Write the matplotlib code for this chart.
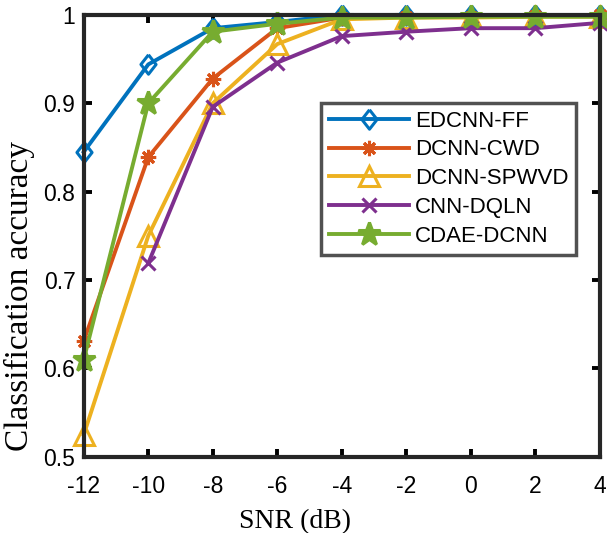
import numpy as np
import matplotlib
matplotlib.use("Agg")
import matplotlib.pyplot as plt

snr = [-12, -10, -8, -6, -4, -2, 0, 2, 4]
edcnn_ff = [0.845, 0.944, 0.985, 0.992, 1.0, 1.0, 1.0, 1.0, 1.0]
dcnn_cwd = [0.631, 0.839, 0.928, 0.985, 0.997, 0.998, 0.998, 0.999, 1.0]
dcnn_spwvd = [0.525, 0.750, 0.900, 0.967, 0.995, 0.997, 0.997, 0.998, 0.998]
cnn_dqln = [np.nan, 0.719, 0.896, 0.946, 0.976, 0.981, 0.985, 0.985, 0.991]
cdae_dcnn = [0.610, 0.900, 0.981, 0.990, 0.997, 0.997, 0.998, 0.998, 0.998]
yticks = [0.5, 0.6, 0.7, 0.8, 0.9, 1.0]
ytick_labels = ["0.5", "0.6", "0.7", "0.8", "0.9", "1"]

labels = ["EDCNN-FF", "DCNN-CWD", "DCNN-SPWVD", "CNN-DQLN", "CDAE-DCNN"]
series = [edcnn_ff, dcnn_cwd, dcnn_spwvd, cnn_dqln, cdae_dcnn]
colors = ["#0072BD", "#D95319", "#EDB120", "#7E2F8E", "#77AC30"]
diamond = [(0, 1), (0.78, 0), (0, -1), (-0.78, 0), (0, 1)]
markers = [diamond, (8, 2, 0), "^", "x", "*"]
msizes = [14, 11, 15, 10, 17]

fig = plt.figure(figsize=(6.07, 5.33), dpi=100)
ax = fig.add_axes([0.138, 0.143, 0.850, 0.829])

for y, lab, c, m, ms in zip(series, labels, colors, markers, msizes):
    mfc = c if m in [(8, 2, 0), "*"] else "none"
    ax.plot(snr, y, color=c, lw=2.8, marker=m, markersize=ms,
            markerfacecolor=mfc, markeredgecolor=c, markeredgewidth=2.2,
            label=lab, clip_on=False)

ax.set_xlim(-12, 4)
ax.set_ylim(0.5, 1.0)
ax.set_xticks(snr)
ax.set_xticklabels([str(s) for s in snr])
ax.set_yticks(yticks)
ax.set_yticklabels(ytick_labels)
for lbl in ax.get_xticklabels() + ax.get_yticklabels():
    lbl.set_family("Liberation Sans")
    lbl.set_fontsize(16.5)
ax.tick_params(direction="in", length=6, width=2.8, top=True, right=True)
ax.tick_params(axis="x", pad=13)
ax.tick_params(axis="y", pad=6)
for s in ax.spines.values():
    s.set_linewidth(3)
    s.set_color("#262626")

ax.set_xlabel("SNR (dB)", family="Liberation Serif", fontsize=20)
ax.set_ylabel("Classification accuracy", family="Liberation Serif", fontsize=24)
ax.xaxis.set_label_coords(0.409, -0.118)
ax.yaxis.set_label_coords(-0.095, 0.365)

leg = ax.legend(loc="upper right", bbox_to_anchor=(0.955, 0.801), borderaxespad=0,
                fancybox=False, edgecolor="#262626",
                prop={"family": "Liberation Sans", "size": 16},
                handlelength=3.6, handletextpad=0.3, borderpad=0.35,
                labelspacing=0.35)
leg.get_frame().set_linewidth(2.5)

fig.savefig("out.png", dpi=100)
